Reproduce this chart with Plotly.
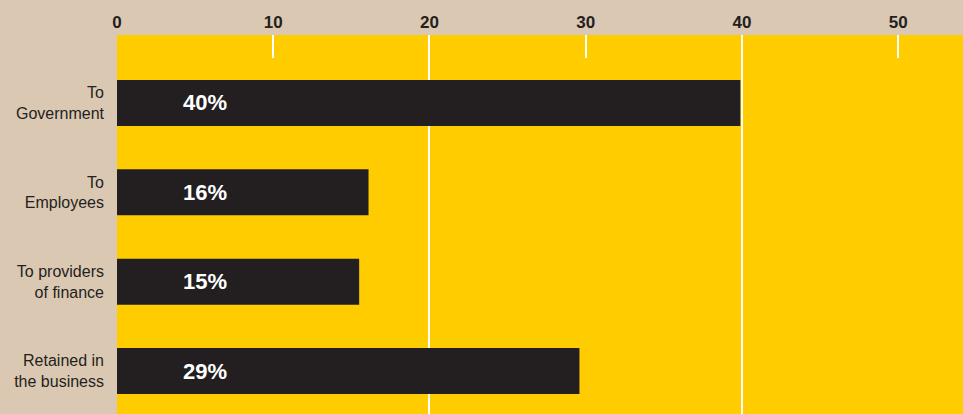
import plotly.graph_objects as go

categories = ["To<br>Government", "To<br>Employees", "To providers<br>of finance", "Retained in<br>the business"]
values = [39.9, 16.1, 15.5, 29.6]
bar_labels = ["40%", "16%", "15%", "29%"]
x_ticks = [0, 10, 20, 30, 40, 50]

BG = "#dbc8b2"
YELLOW = "#ffcc00"
DARK = "#231f20"

fig = go.Figure()
fig.add_trace(go.Bar(
    x=values, y=categories, orientation="h",
    marker=dict(color=DARK, line=dict(width=0)),
    width=0.515, hoverinfo="skip",
))
# invisible trace so the overlay axis (short white ticks) is drawn
fig.add_trace(go.Scatter(x=values, y=categories, xaxis="x2", mode="none", hoverinfo="skip"))

for cat, lab in zip(categories, bar_labels):
    fig.add_annotation(x=5.63, y=cat, xref="x", yref="y", text="<b>" + lab + "</b>",
                       showarrow=False, xanchor="center", yanchor="middle",
                       font=dict(family="Liberation Sans, Arial", size=22, color="white"))

fig.update_layout(
    width=963, height=414,
    margin=dict(l=117, r=0, t=35, b=0),
    paper_bgcolor=BG, plot_bgcolor=YELLOW,
    showlegend=False,
    xaxis=dict(
        side="top", range=[0, 54.15], tickvals=x_ticks,
        ticktext=["<b>%d</b>" % v for v in x_ticks],
        showgrid=False, zeroline=False, showline=False, ticks="",
        ticklabelstandoff=3,
        tickfont=dict(family="Liberation Sans, Arial", size=17, color=DARK),
        minor=dict(tickvals=[20, 40], showgrid=True, gridcolor="white", gridwidth=2, ticks=""),
        fixedrange=True,
    ),
    xaxis2=dict(
        overlaying="x", side="top", range=[0, 54.15],
        tickvals=[10, 30, 50], showticklabels=False, ticks="inside", ticklen=23,
        tickcolor="white", tickwidth=2, showgrid=False, zeroline=False, showline=False,
        fixedrange=True,
    ),
    yaxis=dict(
        range=[3.48, -0.76], showgrid=False, zeroline=False, showline=False,
        ticks="", ticklabelstandoff=12,
        tickfont=dict(family="Liberation Sans, Arial", size=16, color=DARK),
        fixedrange=True,
    ),
)

fig.write_html("out.html")
